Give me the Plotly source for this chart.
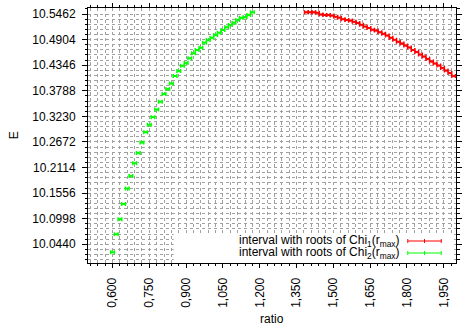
import plotly.graph_objects as go

# ---- data ----
ratio_chi2 = [0.600, 0.615, 0.630, 0.645, 0.660, 0.675, 0.690, 0.705, 0.720, 0.735,
              0.750, 0.765, 0.780, 0.795, 0.810, 0.825, 0.840, 0.855, 0.870, 0.885,
              0.900, 0.915, 0.930, 0.945, 0.960, 0.975, 0.990, 1.005, 1.020, 1.035,
              1.050, 1.065, 1.080, 1.095, 1.110, 1.125, 1.140, 1.155, 1.170]
E_chi2 = [10.0265, 10.0658, 10.0986, 10.1320, 10.1656, 10.1931, 10.2209, 10.2433, 10.2661, 10.2885,
          10.3045, 10.3213, 10.3377, 10.3551, 10.3715, 10.3824, 10.3944, 10.4108, 10.4217, 10.4333,
          10.4392, 10.4495, 10.4604, 10.4676, 10.4726, 10.4835, 10.4894, 10.4945, 10.5003, 10.5054,
          10.5113, 10.5172, 10.5222, 10.5272, 10.5331, 10.5381, 10.5390, 10.5440, 10.5499]
ratio_chi1 = [1.390, 1.405, 1.420, 1.435, 1.450, 1.465, 1.480, 1.495, 1.510, 1.525,
              1.540, 1.555, 1.570, 1.585, 1.600, 1.615, 1.630, 1.645, 1.660, 1.675,
              1.690, 1.705, 1.720, 1.735, 1.750, 1.765, 1.780, 1.795, 1.810, 1.825,
              1.840, 1.855, 1.870, 1.885, 1.900, 1.915, 1.930, 1.945, 1.960, 1.975, 1.990]
E_chi1 = [10.5499, 10.5499, 10.5499, 10.5488, 10.5451, 10.5440, 10.5440, 10.5427, 10.5401, 10.5383,
          10.5348, 10.5331, 10.5318, 10.5292, 10.5265, 10.5226, 10.5187, 10.5156, 10.5121, 10.5102,
          10.5062, 10.5030, 10.4993, 10.4945, 10.4899, 10.4855, 10.4818, 10.4774, 10.4731, 10.4676,
          10.4632, 10.4578, 10.4534, 10.4479, 10.4425, 10.4381, 10.4338, 10.4283, 10.4228, 10.4174,
          10.4108]
interval_half = 0.0075

x_tickvals = [0.60, 0.75, 0.90, 1.05, 1.20, 1.35, 1.50, 1.65, 1.80, 1.95]
x_ticktext = ["0,600", "0,750", "0,900", "1,050", "1,200", "1,350", "1,500", "1,650", "1,800", "1,950"]
y_tickvals = [10.0440, 10.0998, 10.1556, 10.2114, 10.2672, 10.3230, 10.3788, 10.4346, 10.4904, 10.5462]
y_ticktext = ["10.0440", "10.0998", "10.1556", "10.2114", "10.2672", "10.3230", "10.3788", "10.4346", "10.4904", "10.5462"]

legend_labels = ["interval with roots of Chi<sub>1</sub>(r<sub>max</sub>)",
                 "interval with roots of Chi<sub>2</sub>(r<sub>max</sub>)"]
x_title = "ratio"
y_title = "E"
RED = "#ff0000"
GREEN = "#00ff00"

FONT = "Liberation Sans, Arial, sans-serif"

fig = go.Figure()
fig.add_trace(go.Scatter(
    x=ratio_chi1, y=E_chi1, mode="markers",
    marker=dict(color=RED, size=2, symbol="square"),
    error_x=dict(type="constant", value=interval_half, color=RED, thickness=1.5, width=2),
    showlegend=False, hoverinfo="skip"))
fig.add_trace(go.Scatter(
    x=ratio_chi2, y=E_chi2, mode="markers",
    marker=dict(color=GREEN, size=2, symbol="square"),
    error_x=dict(type="constant", value=interval_half, color=GREEN, thickness=1.5, width=2),
    showlegend=False, hoverinfo="skip"))

W, H = 463, 327
L, R, T, B = 88, 1, 8, 64
pw, ph = W - L - R, H - T - B

def px2paper_x(px):
    return (px - L) / pw

def px2paper_y(py):
    return (H - B - py) / ph

shapes = []
# white legend box
shapes.append(dict(type="rect", xref="paper", yref="paper",
                   x0=px2paper_x(175), x1=px2paper_x(458), y0=0, y1=px2paper_y(233),
                   fillcolor="white", line=dict(width=0), layer="above"))
annotations = []
for i, (lab, col) in enumerate(zip(legend_labels, [RED, GREEN])):
    py = 241 + 12 * i
    yv = px2paper_y(py)
    x0, x1 = px2paper_x(413), px2paper_x(447)
    shapes.append(dict(type="line", xref="paper", yref="paper", x0=x0, x1=x1, y0=yv, y1=yv,
                       line=dict(color=col, width=1.2), layer="above"))
    for cx in [413, 430, 447]:
        shapes.append(dict(type="line", xref="paper", yref="paper",
                           x0=px2paper_x(cx), x1=px2paper_x(cx),
                           y0=px2paper_y(py - 2), y1=px2paper_y(py + 2),
                           line=dict(color=col, width=1), layer="above"))
    annotations.append(dict(text=lab, xref="paper", yref="paper", x=px2paper_x(407), y=yv,
                            xanchor="right", yanchor="middle", showarrow=False,
                            font=dict(family=FONT, size=12, color="black")))

# axis titles
annotations.append(dict(text=x_title, xref="paper", yref="paper", x=px2paper_x(275), y=px2paper_y(319),
                        xanchor="center", yanchor="middle", showarrow=False,
                        font=dict(family=FONT, size=12, color="black")))
annotations.append(dict(text=y_title, xref="paper", yref="paper", x=px2paper_x(13), y=px2paper_y(135),
                        xanchor="center", yanchor="middle", showarrow=False, textangle=-90,
                        font=dict(family=FONT, size=12, color="black")))

grid_style = dict(showgrid=True, gridcolor="#a0a0a0", griddash="dot", gridwidth=1)

fig.update_layout(
    width=W, height=H,
    margin=dict(l=L, r=R, t=T, b=B),
    paper_bgcolor="white", plot_bgcolor="white",
    font=dict(family=FONT, size=12, color="black"),
    shapes=shapes, annotations=annotations,
    hovermode=False,
    xaxis=dict(range=[0.5, 2.0], tickmode="array", tickvals=x_tickvals, ticktext=x_ticktext,
               tickangle=-90, ticks="outside", ticklen=4, tickcolor="black",
               showline=True, linecolor="black", linewidth=1, mirror="allticks",
               zeroline=False, ticklabelstandoff=5,
               minor=dict(tickmode="linear", tick0=0.6, dtick=0.03, ticks="outside", ticklen=2,
                          tickcolor="black", **grid_style),
               **grid_style),
    yaxis=dict(range=[10.0032, 10.5593], tickmode="array", tickvals=y_tickvals, ticktext=y_ticktext,
               ticks="outside", ticklen=5, tickcolor="black",
               showline=True, linecolor="black", linewidth=1, mirror="allticks",
               zeroline=False, ticklabelstandoff=4,
               minor=dict(tickmode="linear", tick0=10.0440, dtick=0.01116, ticks="outside", ticklen=2.5,
                          tickcolor="black", **grid_style),
               **grid_style),
)

fig.write_html("out.html",
               config={"displayModeBar": False, "staticPlot": True},
               post_script="document.body.style.margin='0';document.body.style.padding='0';"
                           "document.body.style.overflow='hidden';")
